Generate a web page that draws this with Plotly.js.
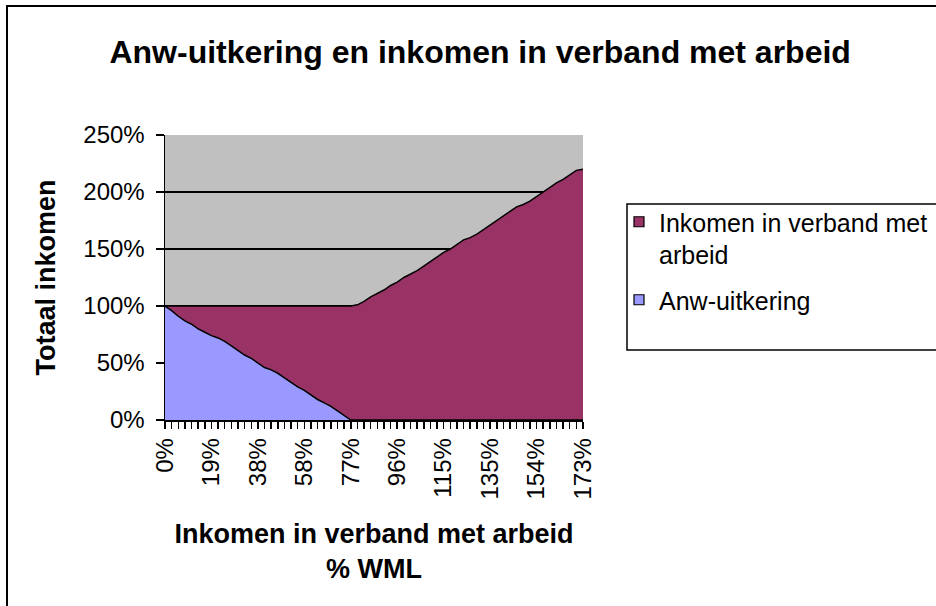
<!DOCTYPE html>
<html>
<head>
<meta charset="utf-8">
<script src="https://cdn.plot.ly/plotly-3.0.1.min.js"></script>
<style>
  body { margin: 0; background: #ffffff; }
  #graph { width: 936px; height: 606px; }
</style>
</head>
<body>
<div id="graph"></div>
<script>
// inkomen in verband met arbeid, % WML
const categories = ['0%','3%','5%','8%','11%','14%','16%','19%','22%','25%','27%','30%','33%','36%',
  '38%','41%','44%','47%','49%','52%','55%','58%','60%','63%','66%','69%','71%','74%',
  '77%','80%','82%','85%','88%','91%','93%','96%','99%','102%','104%','107%','110%','113%',
  '115%','118%','121%','124%','126%','129%','132%','135%','137%','140%','143%','146%','148%','151%',
  '154%','157%','159%','162%','165%','168%','170%','173%'];

const tickLabels = ['0%','19%','38%','58%','77%','96%','115%','135%','154%','173%'];

const anwUitkering = [100,96,91,87,84,80,77,74,72,69,65,61,57,54,50,46,44,41,37,33,29,26,22,18,15,12,8,4,0,
  0,0,0,0,0,0,0,0,0,0,0,0,0,0,0,0,0,0,0,0,0,0,0,0,0,0,0,0,0,0,0,0,0,0,0];

const inkomenArbeid = [0,4,9,13,16,20,23,26,28,31,35,39,43,46,50,54,56,59,63,67,71,74,78,82,85,88,92,96,100,
  101,104,108,111,114,118,121,125,128,131,135,139,143,147,150,154,158,160,163,167,
  171,175,179,183,187,189,192,196,200,204,208,211,215,219,220];

const font = 'Arial, "Liberation Sans", sans-serif';

// plot area in pixels: x 165..583, y 135..420
const px = (p) => (p - 165) / 418;
const py = (p) => (420 - p) / 285;

const drawGraph = () => {
  var trace1 = {
    x: categories,
    y: anwUitkering,
    name: 'Anw-uitkering',
    type: 'scatter',
    mode: 'lines',
    stackgroup: 'one',
    fillcolor: '#9999ff',
    line: { color: '#000000', width: 1.5 },
    showlegend: false
  };

  var trace2 = {
    x: categories,
    y: inkomenArbeid,
    name: 'Inkomen in verband met arbeid',
    type: 'scatter',
    mode: 'lines',
    stackgroup: 'one',
    fillcolor: '#993366',
    line: { color: '#000000', width: 1.5 },
    showlegend: false
  };

  // square swatches for the legend, like the original
  var key2 = {
    x: [null], y: [null],
    name: 'Inkomen in verband met<br>arbeid',
    type: 'scatter', mode: 'markers',
    legendgroup: 'a',
    marker: { symbol: 'square', size: 10, color: '#993366', line: { color: '#000000', width: 1.2 } }
  };
  var key1 = {
    x: [null], y: [null],
    name: 'Anw-uitkering',
    type: 'scatter', mode: 'markers',
    legendgroup: 'b',
    marker: { symbol: 'square', size: 10, color: '#9999ff', line: { color: '#000000', width: 1.2 } }
  };

  var layout = {
    width: 936,
    height: 606,
    margin: { l: 165, r: 353, t: 135, b: 186, autoexpand: false },
    paper_bgcolor: '#ffffff',
    plot_bgcolor: '#c0c0c0',
    font: { family: font, size: 24, color: '#000000' },
    title: {
      text: '<b>Anw-uitkering en inkomen in verband met arbeid</b>',
      font: { family: font, size: 32, color: '#000000' },
      xref: 'container', x: 0.513, xanchor: 'center',
      yref: 'container', y: 1 - 52 / 606, yanchor: 'middle'
    },
    xaxis: {
      type: 'category',
      range: [0, categories.length - 1],
      tickvals: categories,
      ticktext: categories.map(c => tickLabels.includes(c) ? c : ''),
      tickangle: -90,
      ticks: 'outside',
      ticklen: 7,
      tickwidth: 1.5,
      tickcolor: '#000000',
      tickfont: { family: font, size: 24 },
      showgrid: false,
      showline: true,
      linecolor: '#000000',
      linewidth: 1.5,
      zeroline: false,
      title: {
        text: '<b>Inkomen in verband met arbeid<br>% WML</b>',
        font: { family: font, size: 27 },
        standoff: 25
      }
    },
    yaxis: {
      range: [0, 250],
      dtick: 50,
      ticksuffix: '%',
      ticks: 'outside',
      ticklen: 8,
      tickwidth: 1.5,
      tickcolor: '#000000',
      tickfont: { family: font, size: 24 },
      ticklabelstandoff: 6,
      showgrid: true,
      gridcolor: '#000000',
      gridwidth: 1.5,
      showline: true,
      linecolor: '#000000',
      linewidth: 1.5,
      zeroline: false,
      title: {
        text: '<b>Totaal inkomen</b>',
        font: { family: font, size: 27 },
        standoff: 20
      }
    },
    showlegend: true,
    legend: {
      x: px(619),
      y: py(199),
      xanchor: 'left',
      yanchor: 'top',
      traceorder: 'grouped',
      tracegroupgap: 10,
      valign: 'top',
      bgcolor: 'rgba(0,0,0,0)',
      borderwidth: 0,
      font: { family: font, size: 25 },
      itemwidth: 30
    },
    shapes: [
      {
        type: 'rect',
        xref: 'paper', yref: 'paper',
        x0: px(7), x1: 2.0,
        y0: -0.8, y1: py(6),
        line: { color: '#000000', width: 2 }
      },
      {
        type: 'rect',
        xref: 'paper', yref: 'paper',
        x0: px(627), x1: px(950),
        y0: py(350), y1: py(204),
        line: { color: '#000000', width: 1.5 }
      }
    ]
  };

  Plotly.newPlot('graph', [trace1, trace2, key2, key1], layout, { displayModeBar: false, staticPlot: true });
};

drawGraph();
</script>
</body>
</html>
